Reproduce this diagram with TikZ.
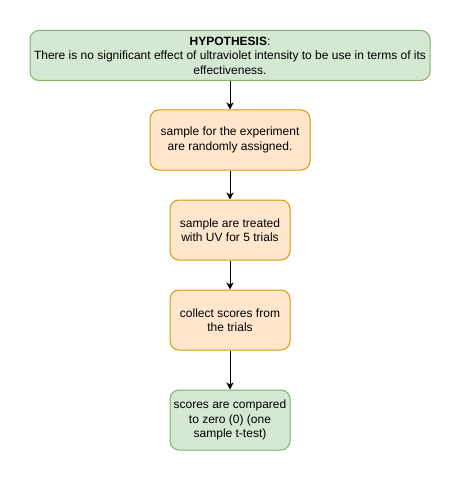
\documentclass[tikz,border=0pt]{standalone}
\usepackage{fontspec}
\setmainfont{Liberation Sans}
\usetikzlibrary{arrows.meta}
\definecolor{okfill}{HTML}{D5E8D4}
\definecolor{okline}{HTML}{82B366}
\definecolor{stepfill}{HTML}{FFE6CC}
\definecolor{stepline}{HTML}{D79B00}
\tikzset{
  flowbox/.style={draw, line width=1pt, rounded corners=9pt, inner sep=0pt, align=center, font=\fontsize{12}{14.5}\selectfont},
  greenbox/.style={flowbox, fill=okfill, draw=okline},
  orangebox/.style={flowbox, fill=stepfill, draw=stepline},
  flowarrow/.style={-{Stealth[length=7pt,width=7pt,inset=2pt]}, line width=1pt}
}
\begin{document}
\begin{tikzpicture}[x=1pt, y=-1pt]
  \useasboundingbox (0,0) rectangle (461,481);
  \node[greenbox, minimum width=400pt, minimum height=50pt] (hyp) at (230,55.5)
    {\textbf{HYPOTHESIS}:\\There is no significant effect of ultraviolet intensity to be use in terms of its\\effectiveness.};
  \node[orangebox, minimum width=160pt, minimum height=60pt] (sample) at (230,140)
    {sample for the experiment\\are randomly assigned.};
  \node[orangebox, minimum width=120pt, minimum height=60pt] (treat) at (230,230)
    {sample are treated\\with UV for 5 trials};
  \node[orangebox, minimum width=120pt, minimum height=60pt] (collect) at (230,320)
    {collect scores from\\the trials};
  \node[greenbox, minimum width=120pt, minimum height=60pt] (compare) at (230,420)
    {scores are compared\\to zero (0) (one\\sample t-test)};
  \foreach \a/\b in {hyp/sample, sample/treat, treat/collect, collect/compare}
    \draw[flowarrow] (\a) -- (\b);
\end{tikzpicture}
\end{document}
